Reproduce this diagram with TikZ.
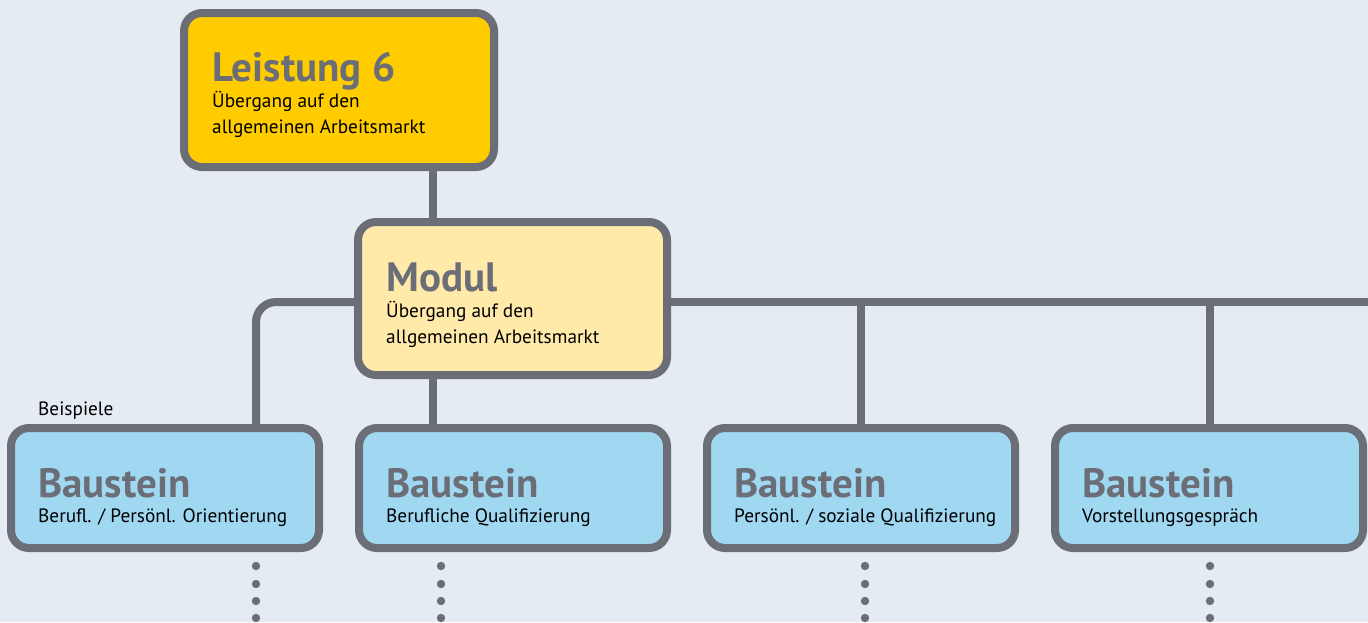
\documentclass[tikz,border=0pt]{standalone}
\usepackage{fontspec}
\setmainfont{PT Sans}
\definecolor{bg}{RGB}{228,235,243}
\definecolor{edge}{RGB}{107,110,118}
\definecolor{gold}{RGB}{255,204,0}
\definecolor{pale}{RGB}{255,234,170}
\definecolor{sky}{RGB}{160,216,242}
\tikzset{
  box/.style={draw=edge, line width=8pt, rounded corners=18pt, inner sep=0pt},
  conn/.style={draw=edge, line width=8pt},
  head/.style={anchor=base west, inner sep=0pt, text=edge, font=\fontsize{41}{41}\selectfont\bfseries},
  sub/.style={anchor=base west, inner sep=0pt, text=black, font=\fontsize{19.3}{26}\selectfont},
  dot/.style={fill=edge}
}
\begin{document}
\begin{tikzpicture}[x=1pt,y=-1pt]
\fill[bg] (0,0) rectangle (1368,622);
\useasboundingbox (0,0) rectangle (1368,622);
% coordinates
\coordinate (m1) at (433,0);
\coordinate (hl) at (256,302);
\coordinate (hr) at (1368,302);
\coordinate (v3) at (861,302);
\coordinate (v4) at (1210,302);
% boxes
\node[box, fill=gold, minimum width=310pt, minimum height=154pt] (L6) at (339,90) {};
\node[box, fill=pale, minimum width=309pt, minimum height=153pt] (modul) at (512.5,298.5) {};
\node[box, fill=sky, minimum width=308pt, minimum height=120pt] (b1) at (165,488) {};
\node[box, fill=sky, minimum width=308pt, minimum height=120pt] (b2) at (513,488) {};
\node[box, fill=sky, minimum width=308pt, minimum height=120pt] (b3) at (861,488) {};
\node[box, fill=sky, minimum width=308pt, minimum height=120pt] (b4) at (1209,488) {};
% connectors
\draw[conn] (L6.south -| m1) -- (modul.north -| m1);
\draw[conn] (modul.south -| m1) -- (b2.north -| m1);
\draw[conn, rounded corners=20pt] (modul.west |- hl) -- (hl) -- (b1.north -| hl);
\draw[conn] (modul.east |- hr) -- (hr);
\draw[conn] (v3) -- (b3.north -| v3);
\draw[conn] (v4) -- (b4.north -| v4);
% texts
\node[head] (t1) at (212,81) {Leistung 6};
\node[sub] (s1a) at (212,107) {Übergang auf den};
\node[sub] (s1b) at (212,133) {allgemeinen Arbeitsmarkt};
\node[head] (t2) at (386,291) {Modul};
\node[sub] (s2a) at (386,317) {Übergang auf den};
\node[sub] (s2b) at (386,343) {allgemeinen Arbeitsmarkt};
\node[sub] (bsp) at (38,415) {Beispiele};
\node[head] (t3) at (38,497) {Baustein};
\node[sub] (s3) at (38,522) {Berufl. / Persönl. Orientierung};
\node[head] (t4) at (386,497) {Baustein};
\node[sub] (s4) at (386,522) {Berufliche Qualifizierung};
\node[head] (t5) at (734,497) {Baustein};
\node[sub] (s5) at (734,522) {Persönl. / soziale Qualifizierung};
\node[head] (t6) at (1082,497) {Baustein};
\node[sub] (s6) at (1082,522) {Vorstellungsgespräch};
% dots
\foreach \x in {256,441,865,1210}{
  \foreach \y in {566,584,601,618}{
    \fill[dot] (\x,\y) circle (4.2pt);
  }
}
\end{tikzpicture}
\end{document}
